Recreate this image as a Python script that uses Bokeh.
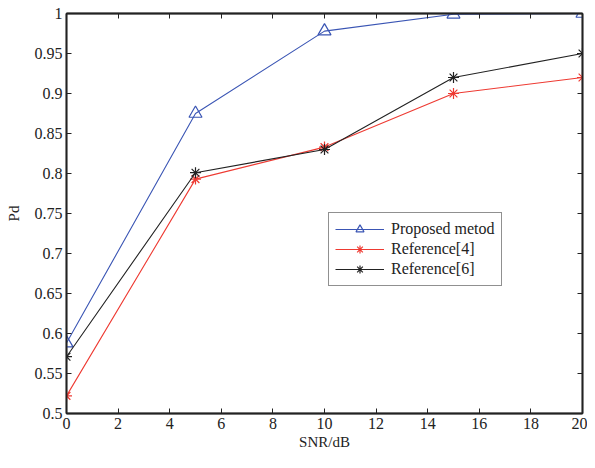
from bokeh.plotting import figure
from bokeh.models import Range1d, LinearAxis, Legend, LegendItem, FixedTicker
from bokeh.embed import file_html
from bokeh.resources import INLINE

snr = [0, 5, 10, 15, 20]
proposed = [0.588, 0.875, 0.978, 0.999, 1.0]
ref4 = [0.522, 0.793, 0.833, 0.900, 0.920]
ref6 = [0.571, 0.801, 0.830, 0.920, 0.950]

x_ticks = [0, 2, 4, 6, 8, 10, 12, 14, 16, 18, 20]
y_ticks = [0.5, 0.55, 0.6, 0.65, 0.7, 0.75, 0.8, 0.85, 0.9, 0.95, 1.0]
y_labels = ["0.5", "0.55", "0.6", "0.65", "0.7", "0.75", "0.8", "0.85", "0.9", "0.95", "1"]

FONT = "Liberation Serif"

p = figure(width=587, height=452, output_backend="svg", toolbar_location=None,
           x_range=Range1d(0, 20), y_range=Range1d(0.5, 1.0),
           min_border_left=66, min_border_right=5, min_border_top=13, min_border_bottom=39)
p.grid.visible = False
p.background_fill_color = "white"
p.border_fill_color = "white"
p.outline_line_color = "#222222"
p.outline_line_width = 1.5

def style_axis(ax):
    ax.major_tick_in = 5
    ax.major_tick_out = 0
    ax.minor_tick_in = 0
    ax.minor_tick_out = 0
    ax.axis_line_color = "#222222"
    ax.axis_line_width = 1.8
    ax.major_tick_line_color = "#222222"
    ax.major_label_text_font = FONT
    ax.major_label_text_font_size = "16px"
    ax.major_label_text_color = "#222222"
    ax.axis_label_text_font = FONT
    ax.axis_label_text_font_size = "15px"
    ax.axis_label_text_font_style = "normal"
    ax.axis_label_text_color = "#222222"

p.xaxis.ticker = FixedTicker(ticks=x_ticks)
p.yaxis.ticker = FixedTicker(ticks=y_ticks)
p.yaxis.major_label_overrides = {t: l for t, l in zip(y_ticks, y_labels)}
p.xaxis.axis_label = "SNR/dB"
p.yaxis.axis_label = "Pd"
style_axis(p.xaxis[0])
style_axis(p.yaxis[0])
p.xaxis.major_label_standoff = 4
p.xaxis.axis_label_standoff = 2
p.yaxis.major_label_standoff = 4
p.yaxis.axis_label_standoff = 10

top = LinearAxis(ticker=FixedTicker(ticks=x_ticks))
right = LinearAxis(ticker=FixedTicker(ticks=y_ticks))
style_axis(top)
style_axis(right)
top.major_label_overrides = {t: "" for t in x_ticks}
right.major_label_overrides = {t: "" for t in y_ticks}
top.major_label_standoff = 0
right.major_label_standoff = 0
p.add_layout(top, "above")
p.add_layout(right, "right")

blue = "#3a55b4"
red = "#ee3a32"
black = "#222222"

l1 = p.line(snr, proposed, line_color=blue, line_width=1.1)
m1 = p.scatter(snr, proposed, marker="triangle", size=13, fill_color=None,
               line_color=blue, line_width=1.2)
l2 = p.line(snr, ref4, line_color=red, line_width=1.1)
m2 = p.scatter(snr, ref4, marker="asterisk", size=11, line_color=red, line_width=1.2)
l3 = p.line(snr, ref6, line_color=black, line_width=1.1)
m3 = p.scatter(snr, ref6, marker="asterisk", size=11, line_color=black, line_width=1.2)

legend = Legend(items=[
    LegendItem(label="Proposed metod", renderers=[l1, m1]),
    LegendItem(label="Reference[4]", renderers=[l2, m2]),
    LegendItem(label="Reference[6]", renderers=[l3, m3]),
], location=(262, 127))
legend.label_text_font = FONT
legend.label_text_font_size = "16px"
legend.label_text_color = "#222222"
legend.glyph_width = 49
legend.glyph_height = 20
legend.label_height = 20
legend.spacing = 0
legend.padding = 6
legend.margin = 0
legend.label_standoff = 7
legend.border_line_color = "#222222"
legend.border_line_width = 1
legend.background_fill_alpha = 1.0
p.add_layout(legend, "center")

open("out.html", "w").write(file_html(p, INLINE))
